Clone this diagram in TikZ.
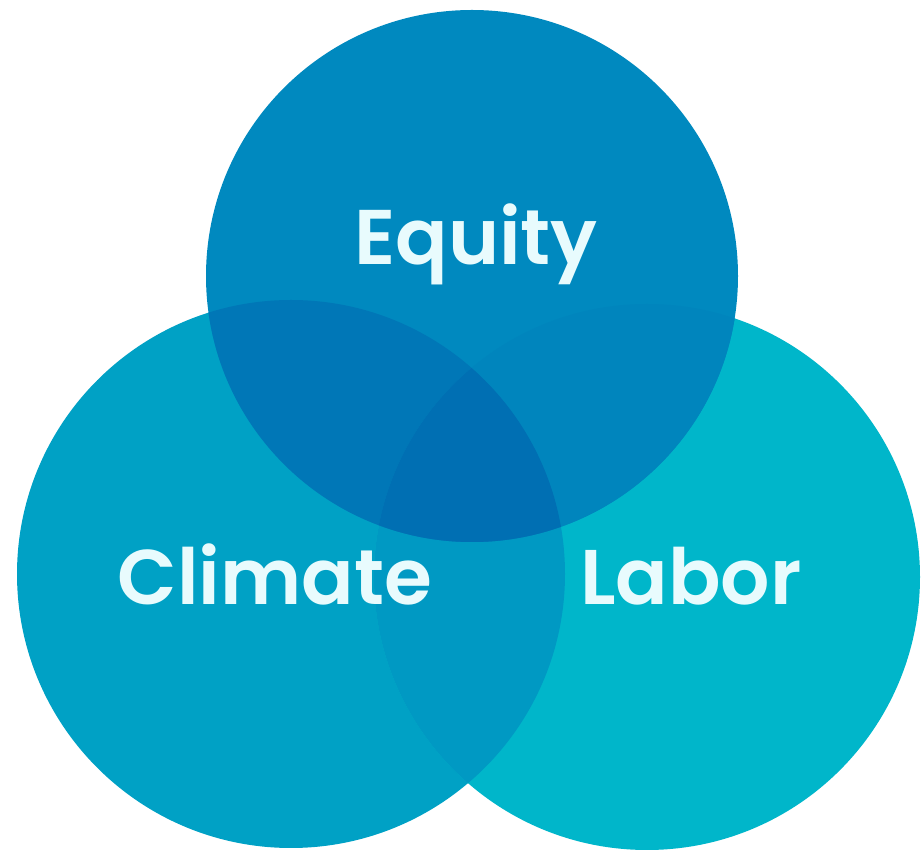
\documentclass[tikz,border=0pt]{standalone}
\usepackage{fontspec}
\setmainfont{Poppins}
\newfontfamily\labelfont{Poppins SemiBold}
\definecolor{cEq}{HTML}{0089BF}
\definecolor{cCl}{HTML}{00A1C5}
\definecolor{cLa}{HTML}{00B6CA}
\definecolor{cEqCl}{HTML}{0077B7}
\definecolor{cEqLa}{HTML}{0085BD}
\definecolor{cClLa}{HTML}{0099C3}
\definecolor{cAll}{HTML}{006FB3}
\definecolor{cTxt}{HTML}{E8FBFD}
\tikzset{lbl/.style={text=cTxt, font=\labelfont\fontsize{77.5}{80}\selectfont, anchor=base, inner sep=0pt}}
\begin{document}
\begin{tikzpicture}[x=1pt,y=1pt]
\useasboundingbox (0,0) rectangle (922,852);
\def\EqC{(472,576) circle[radius=266]}
\def\ClC{(291,278) circle[radius=274]}
\def\LaC{(647,275) circle[radius=273]}
\fill[cCl] \ClC;
\fill[cLa] \LaC;
\fill[cEq] \EqC;
\begin{scope}
\clip \ClC;
\fill[cClLa] \LaC;
\fill[cEqCl] \EqC;
\end{scope}
\begin{scope}
\clip \LaC;
\fill[cEqLa] \EqC;
\end{scope}
\begin{scope}
\clip \ClC;
\clip \LaC;
\fill[cAll] \EqC;
\end{scope}
\node[lbl] (eq) at (476,587) {Equity};
\node[lbl] (cl) at (275,247) {Climate};
\node[lbl] (la) at (691,247) {Labor};
\end{tikzpicture}
\end{document}
